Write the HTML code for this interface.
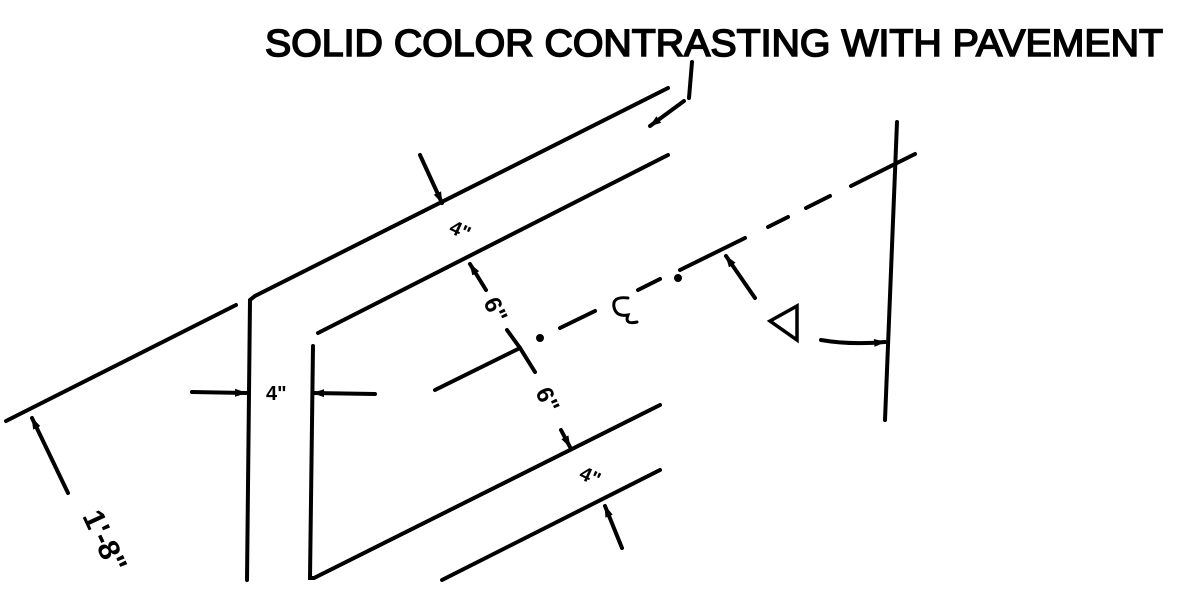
<!DOCTYPE html>
<html><head><meta charset="utf-8"><style>
html,body{margin:0;padding:0;background:#fff;width:1193px;height:600px;overflow:hidden}
svg text{font-family:"Liberation Sans",sans-serif;font-weight:bold;fill:#000}
</style></head><body>
<svg width="1193" height="600" viewBox="0 0 1193 600">
<defs><marker id="ah" markerWidth="12" markerHeight="10" refX="11" refY="5" orient="auto" markerUnits="userSpaceOnUse"><path d="M0,1 L12,5 L0,9 Z" fill="#000"/></marker></defs>
<text x="265" y="56" font-size="38" style="font-weight:normal;stroke:#000;stroke-width:1.6" textLength="898" lengthAdjust="spacingAndGlyphs">SOLID COLOR CONTRASTING WITH PAVEMENT</text>
<g stroke="#000" stroke-width="4" fill="none" stroke-linecap="round">
<path d="M692,62 L689,98 M684,101 L650,126" marker-end="url(#ah)"/>
<path d="M668,88 L255,296 L250,300 L247,580"/>
<path d="M668,155 L318,333 M313,346 L310,578 L314,578 L660,405"/>
<path d="M6,421 L236,305"/>
<path d="M435,390 L520,348"/>
<path d="M442,580 L660,470"/>
<path d="M560,328 L595,311 M638,290 L660,279 M680,270 L745,238 M768,227 L788,217 M806,208 L830,196 M851,186 L915,154"/>
<circle cx="540" cy="338" r="2" fill="#000"/>
<circle cx="678" cy="278" r="2" fill="#000"/>
<path d="M897,122 L885,420"/>
<path d="M420,155 L442,203" marker-end="url(#ah)"/>
<path d="M486,290 L470,264" marker-end="url(#ah)"/>
<path d="M507,330 L520,348 L535,372"/>
<path d="M561,430 L570,447" marker-end="url(#ah)"/>
<path d="M622,548 L605,506" marker-end="url(#ah)"/>
<path d="M68,493 L32,418" marker-end="url(#ah)"/>
<path d="M192,392 L246,393" marker-end="url(#ah)"/>
<path d="M375,394 L313,393" marker-end="url(#ah)"/>
<path d="M755,298 L726,256" marker-end="url(#ah)"/>
<path d="M821,340 Q850,345 885,342" marker-end="url(#ah)"/>
<path d="M770,321 L797,306 L797,340 Z" stroke-width="3.5"/>
<path d="M628,298 Q612,296 614,307 Q616,317 628,315 Q624,325 637,322" stroke-width="3"/>
</g>
<text transform="translate(448,232) rotate(25)" font-size="20">4"</text>
<text transform="translate(483,302) rotate(65)" font-size="24">6"</text>
<text transform="translate(535,392) rotate(65)" font-size="24">6"</text>
<text transform="translate(578,478) rotate(25)" font-size="20">4"</text>
<text x="266" y="400" font-size="20">4"</text>
<text transform="translate(82,516) rotate(65)" font-size="30">1'-8"</text>
</svg>
</body></html>
